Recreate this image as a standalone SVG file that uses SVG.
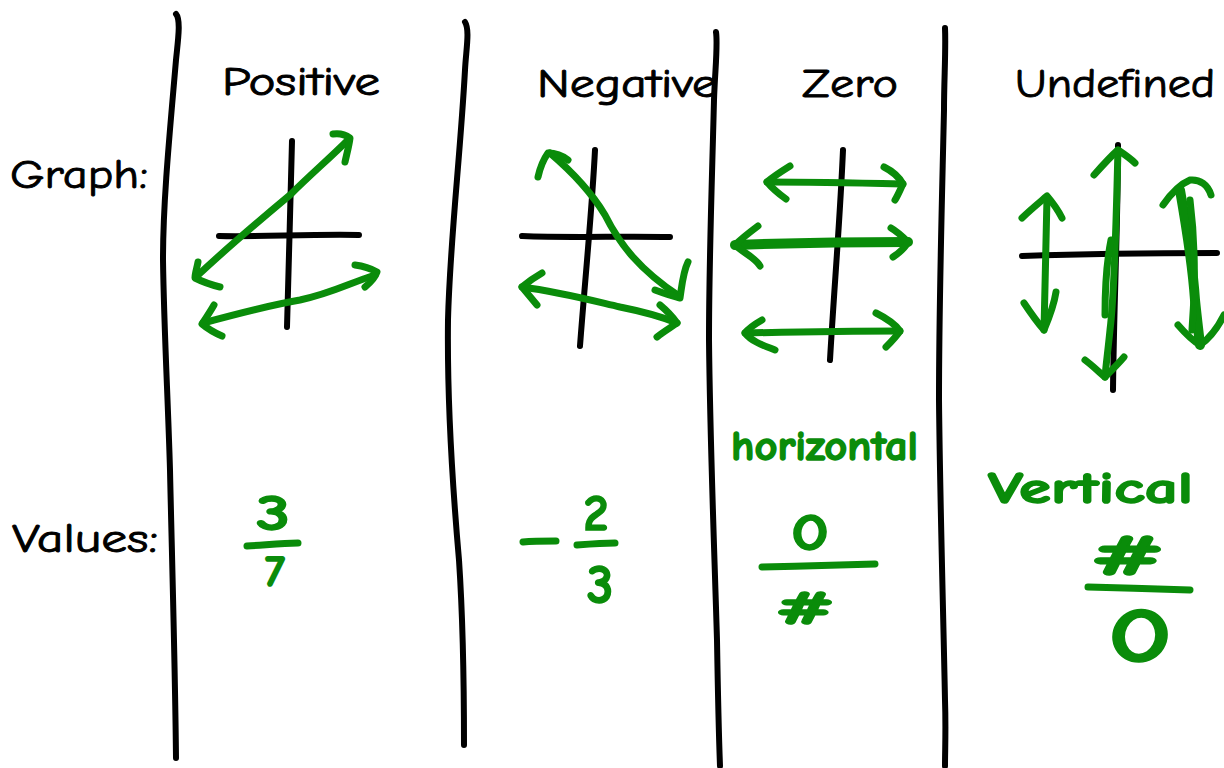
<svg xmlns="http://www.w3.org/2000/svg" width="1224" height="768" viewBox="0 0 1224 768">
<style>
.blk{fill:none;stroke:#000;stroke-width:6;stroke-linecap:round;stroke-linejoin:round}
.grn{fill:none;stroke:#0a8c0a;stroke-width:7;stroke-linecap:round;stroke-linejoin:round}
.lbl{font-family:"Comic Neue","Lato","Liberation Sans",sans-serif;font-size:40px;fill:#000;stroke:#000;stroke-width:0.9}
.gt{font-family:"Comic Neue","Liberation Sans","DejaVu Sans",sans-serif;font-weight:bold;fill:#0a8c0a;stroke:#0a8c0a;stroke-width:1.5}
</style>
<rect width="1224" height="768" fill="#fff"/>
<g id="dividers">
<path class="blk" d="M176,14 C181,20 178,40 176,60 C170,130 163,200 163,260 C164,330 168,400 170,470 C172,560 175,660 176,758"/>
<path class="blk" d="M465,22 C470,30 466,50 465,70 C460,160 450,240 448,320 C447,400 452,480 459,560 C463,620 464,690 464,745"/>
<path class="blk" d="M716,32 C718,45 715,70 714,100 C712,180 709,260 709,340 C710,440 714,540 717,640 C718,700 719,740 720,766"/>
<path class="blk" d="M945,28 C946,50 944,80 944,110 C942,200 939,300 939,400 C940,500 943,600 945,700 C946,730 945,750 945,766"/>
</g>
<g id="labels">
<text class="lbl" x="222" y="95" textLength="158" lengthAdjust="spacingAndGlyphs">Positive</text>
<text class="lbl" x="537" y="97" textLength="180" lengthAdjust="spacingAndGlyphs">Negative</text>
<text class="lbl" x="802" y="97" textLength="96" lengthAdjust="spacingAndGlyphs">Zero</text>
<text class="lbl" x="1015" y="97" textLength="200" lengthAdjust="spacingAndGlyphs">Undefined</text>
<text class="lbl" x="10" y="188" textLength="138" lengthAdjust="spacingAndGlyphs">Graph:</text>
<text class="lbl" x="12" y="552" textLength="146" lengthAdjust="spacingAndGlyphs">Values:</text>
</g>
<g id="positive-graph">
<path class="blk" d="M292,141 C291,200 288,270 287,327"/>
<path class="blk" d="M219,236 C260,237 310,234 359,235"/>
<path class="grn" d="M196,277 C230,245 260,220 290,195 C310,175 330,158 348,140"/>
<path class="grn" d="M333,134 C340,133 346,135 350,138 C349,146 347,153 345,162"/>
<path class="grn" d="M198,262 C197,268 195,273 195,278 C203,282 212,285 220,287"/>
<path class="grn" d="M203,323 C240,313 270,305 300,300 C330,294 350,283 375,275"/>
<path class="grn" d="M355,265 C363,266 370,268 377,272 C375,278 370,283 365,287"/>
<path class="grn" d="M214,305 C210,312 206,318 202,324 C208,329 215,333 222,336"/>
</g>
<g id="negative-graph">
<path class="blk" d="M595,150 C592,210 585,280 580,346"/>
<path class="blk" d="M522,236 C570,238 620,236 670,237"/>
<path class="grn" d="M550,153 C570,170 590,190 605,215 C620,245 640,270 679,296"/>
<path class="grn" d="M538,177 C540,168 543,160 548,153 C556,153 563,156 568,160"/>
<path class="grn" d="M688,262 C683,272 682,285 680,298 C672,296 663,293 655,290"/>
<path class="grn" d="M522,287 C560,292 590,300 620,307 C640,311 660,316 677,323"/>
<path class="grn" d="M542,273 C535,277 528,282 522,287 C527,293 532,299 537,305"/>
<path class="grn" d="M660,305 C666,310 672,316 677,323 C670,328 663,332 657,337"/>
</g>
<g id="zero-graph">
<path class="blk" d="M843,150 C840,220 834,290 830,360"/>
<path class="grn" d="M767,182 C810,182 860,183 903,184"/>
<path class="grn" d="M790,166 C782,171 774,176 767,182 C772,188 779,194 786,199"/>
<path class="grn" d="M884,167 C892,171 899,177 903,184 C900,190 898,195 895,200"/>
<path class="grn" style="stroke-width:10" d="M735,245 C790,243 850,242 908,242"/>
<path class="grn" d="M758,226 C750,232 742,238 735,245 C742,252 756,258 760,266"/>
<path class="grn" d="M891,228 C898,232 903,237 908,242 C905,248 899,253 893,257"/>
<path class="grn" d="M745,333 C790,332 850,331 900,331"/>
<path class="grn" d="M762,320 C755,324 749,328 745,333 C752,342 765,346 775,350"/>
<path class="grn" d="M876,313 C886,318 895,324 900,331 C896,337 890,343 886,347"/>
</g>
<g id="undefined-graph">
<path class="blk" d="M1118,145 C1118,220 1114,300 1113,390"/>
<path class="blk" d="M1022,256 C1080,254 1150,253 1217,253"/>
<path class="grn" d="M1047,197 C1046,240 1045,290 1044,330"/>
<path class="grn" d="M1022,218 C1030,210 1040,202 1047,196 C1053,203 1058,210 1062,218"/>
<path class="grn" d="M1024,303 C1030,312 1037,322 1044,330 C1049,318 1054,305 1056,292"/>
<path class="grn" d="M1118,150 C1116,220 1115,290 1110,330 C1108,350 1106,365 1105,377"/>
<path class="grn" d="M1111,240 C1106,265 1105,290 1105,315"/>
<path class="grn" d="M1094,175 C1102,166 1110,157 1118,150 C1124,154 1130,158 1135,163"/>
<path class="grn" d="M1085,360 C1093,366 1099,372 1105,377 C1112,370 1119,363 1124,357"/>
<path class="grn" style="stroke-width:10" d="M1180,190 C1187,230 1193,270 1195,300 C1197,320 1199,335 1200,345"/>
<path class="grn" d="M1190,200 C1195,240 1196,280 1192,330"/>
<path class="grn" d="M1163,205 C1170,195 1178,185 1190,180 C1200,179 1208,185 1211,195"/>
<path class="grn" d="M1178,325 C1185,333 1193,341 1200,345 C1210,338 1218,327 1224,315"/>
</g>
<g id="zero-notes">
<text class="gt" x="731" y="460" font-size="42" textLength="187" lengthAdjust="spacingAndGlyphs">horizontal</text>
</g>
<g id="undefined-notes">
<text class="gt" x="988" y="503" font-size="44" textLength="205" lengthAdjust="spacingAndGlyphs">Vertical</text>
</g>
<g id="positive-value">
<text class="gt" x="256" y="530" font-size="50" textLength="34" lengthAdjust="spacingAndGlyphs">3</text>
<path class="grn" d="M247,546 C265,545 282,543 298,543"/>
<text class="gt" x="275" y="586" font-size="44" text-anchor="middle">7</text>
</g>
<g id="negative-value">
<path class="grn" d="M523,542 C533,541 545,541 556,541"/>
<text class="gt" x="596" y="530" font-size="50" text-anchor="middle">2</text>
<path class="grn" d="M577,545 C590,544 603,543 615,543"/>
<text class="gt" x="600" y="603" font-size="54" text-anchor="middle">3</text>
</g>
<g id="zero-value">
<text class="gt" x="791" y="550" font-size="52" textLength="38" lengthAdjust="spacingAndGlyphs">0</text>
<path class="grn" d="M762,567 C800,566 840,565 875,564"/>
<text class="gt" x="775" y="624" font-size="48" textLength="60" lengthAdjust="spacingAndGlyphs">#</text>
</g>
<g id="undefined-value">
<text class="gt" x="1090" y="575" font-size="58" textLength="75" lengthAdjust="spacingAndGlyphs">#</text>
<path class="grn" d="M1088,587 C1120,588 1160,589 1190,590"/>
<text class="gt" x="1108" y="662" font-size="78" textLength="64" lengthAdjust="spacingAndGlyphs">0</text>
</g>
</svg>
